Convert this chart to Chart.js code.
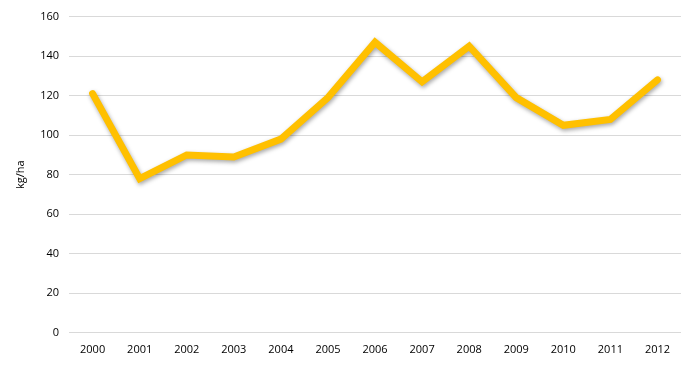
<!DOCTYPE html>
<html>
<head>
<meta charset="utf-8">
<script src="https://cdn.jsdelivr.net/npm/chart.js@4"></script>
<style>
    html, body { margin: 0; padding: 0; background: #fff; }
    #wrap { width: 697px; height: 365px; }
</style>
</head>
<body>
<div id="wrap"><canvas id="chart" width="697" height="365"></canvas></div>
<script>
// Годы и значения (кг/га)
const years = ['2000', '2001', '2002', '2003', '2004', '2005', '2006', '2007', '2008', '2009', '2010', '2011', '2012'];
const values = [121, 78, 90, 89, 98, 119, 147, 127, 145, 119, 105, 108, 128];
const yTicks = [0, 20, 40, 60, 80, 100, 120, 140, 160];

// Тень под линией
const shadowPlugin = {
    id: 'lineShadow',
    beforeDatasetDraw(chart) {
        const ctx = chart.ctx;
        ctx.save();
        ctx.shadowColor = 'rgba(0,0,0,0.35)';
        ctx.shadowBlur = 4;
        ctx.shadowOffsetX = 1;
        ctx.shadowOffsetY = 2;
    },
    afterDatasetDraw(chart) {
        chart.ctx.restore();
    }
};

const font = { family: "'Open Sans', 'Liberation Sans', sans-serif", size: 11 };

new Chart(document.getElementById('chart').getContext('2d'), {
    type: 'line',
    data: {
        labels: years,
        datasets: [{
            data: values,
            borderColor: '#FFC000',
            borderWidth: 7,
            borderCapStyle: 'round',
            borderJoinStyle: 'miter',
            pointRadius: 0,
            tension: 0,
            fill: false
        }]
    },
    options: {
        responsive: false,
        animation: false,
        layout: { padding: { left: 14, right: 16, top: 6, bottom: 7 } },
        plugins: {
            legend: { display: false },
            tooltip: { enabled: false }
        },
        scales: {
            x: {
                offset: true,
                grid: { display: false },
                border: { display: false },
                ticks: { color: '#000', font: font, padding: 2, maxRotation: 0 }
            },
            y: {
                min: 0,
                max: 160,
                afterBuildTicks(axis) { axis.ticks = yTicks.map(v => ({ value: v })); },
                grid: { color: '#d9d9d9', lineWidth: 1, drawTicks: false },
                border: { display: false },
                ticks: { color: '#000', font: font, padding: 10 },
                title: { display: true, text: 'kg/ha', color: '#000', font: font, padding: { top: 0, bottom: 3 } }
            }
        }
    },
    plugins: [shadowPlugin]
});
</script>
</body>
</html>
